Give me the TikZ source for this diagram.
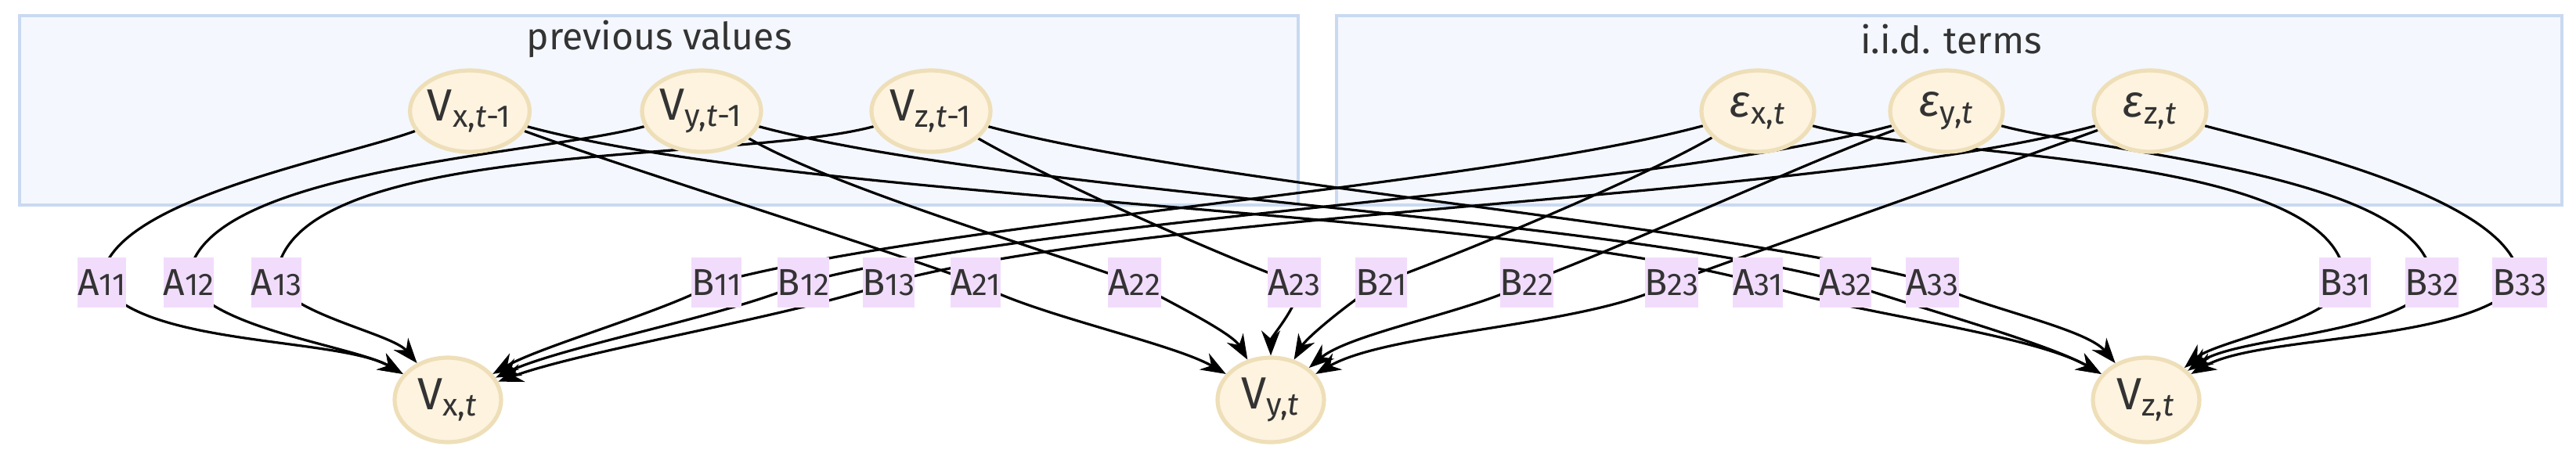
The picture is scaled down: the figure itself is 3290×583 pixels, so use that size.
\documentclass[tikz,border=0pt]{standalone}
\usepackage{fontspec}
\setmainfont{Fira Sans}
\usetikzlibrary{arrows.meta,shapes.geometric}
\definecolor{boxfill}{HTML}{F4F7FD}
\definecolor{boxline}{HTML}{C9D9F1}
\definecolor{nodefill}{HTML}{FDF3DF}
\definecolor{nodeline}{HTML}{EEDFB8}
\definecolor{lblfill}{HTML}{F2DCFC}
\definecolor{txt}{HTML}{333333}
\pgfdeclarelayer{bg}\pgfdeclarelayer{edges}
\pgfsetlayers{bg,edges,main}
\begin{document}
\begin{tikzpicture}[x=0.25pt,y=-0.25pt,
  cluster/.style={draw=boxline,fill=boxfill,line width=1.2pt},
  var/.style={ellipse,draw=nodeline,fill=nodefill,line width=1.3pt,minimum width=38pt,minimum height=26pt,inner sep=0pt,text=txt,font=\Large},
  lbl/.style={fill=lblfill,minimum width=14.5pt,minimum height=16pt,inner sep=0pt,text=txt,font=\large},
  edge/.style={black,line width=0.8pt},
  arr/.style={edge,-{Stealth[length=8pt,width=6pt]}}]
\useasboundingbox (0,0) rectangle (3290,583);
\begin{pgfonlayer}{bg}
\draw[cluster] (25,20) rectangle (1658,262);
\draw[cluster] (1707,20) rectangle (3272,262);
\end{pgfonlayer}
\node[text=txt,font=\large] (t1) at (842,50) {previous values};
\node[text=txt,font=\large] (t2) at (2492,50) {i.i.d. terms};
\node[var,minimum width=38pt] (vx1) at (600,142) {V\textsubscript{x,\textit{t}-1}};
\node[var,minimum width=38pt] (vy1) at (896,142) {V\textsubscript{y,\textit{t}-1}};
\node[var,minimum width=38pt] (vz1) at (1189,142) {V\textsubscript{z,\textit{t}-1}};
\node[var,minimum width=36pt] (ex) at (2245,142) {\textit{ε}\textsubscript{x,\textit{t}}};
\node[var,minimum width=36pt] (ey) at (2486,142) {\textit{ε}\textsubscript{y,\textit{t}}};
\node[var,minimum width=36pt] (ez) at (2746,142) {\textit{ε}\textsubscript{z,\textit{t}}};
\node[var,minimum width=34pt,minimum height=27pt] (vxt) at (572,511) {V\textsubscript{x,\textit{t}}};
\node[var,minimum width=34pt,minimum height=27pt] (vyt) at (1623,511) {V\textsubscript{y,\textit{t}}};
\node[var,minimum width=34pt,minimum height=27pt] (vzt) at (2741,511) {V\textsubscript{z,\textit{t}}};
\foreach \L/\D/\x/\s/\d/\o/\li/\lo/\i in {
 A/11/130/vx1/vxt/-160/90/-60/150, A/12/241/vy1/vxt/-165/90/-60/150, A/13/353/vz1/vxt/-165/90/-60/130,
 B/11/915/ex/vxt/-165/15/-150/30, B/12/1026/ey/vxt/-165/15/-155/25, B/13/1135/ez/vxt/-165/15/-160/20,
 A/21/1246/vx1/vyt/-20/160/-30/150, A/22/1449/vy1/vyt/-30/160/-30/120, A/23/1653/vz1/vyt/-30/160/-30/90,
 B/21/1764/ex/vyt/-150/20/-150/60, B/22/1950/ey/vyt/-160/20/-150/40, B/23/2135/ez/vyt/-160/20/-150/30,
 A/31/2245/vx1/vzt/-15/165/-20/150, A/32/2357/vy1/vzt/-15/165/-20/150, A/33/2468/vz1/vzt/-15/165/-30/130,
 B/31/2995/ex/vzt/-15/90/-110/40, B/32/3106/ey/vzt/-15/90/-120/35, B/33/3218/ez/vzt/-15/90/-130/30}{
  \node[lbl] (\L\D) at (\x,361) {\L{\normalsize\D}};
  \begin{pgfonlayer}{edges}
  \draw[edge] (\s) to[out=\o,in=\li,looseness=0.6] (\L\D.center);
  \draw[arr] (\L\D.center) to[out=\lo,in=\i,looseness=0.6] (\d);
  \end{pgfonlayer}
}
\end{tikzpicture}
\end{document}
